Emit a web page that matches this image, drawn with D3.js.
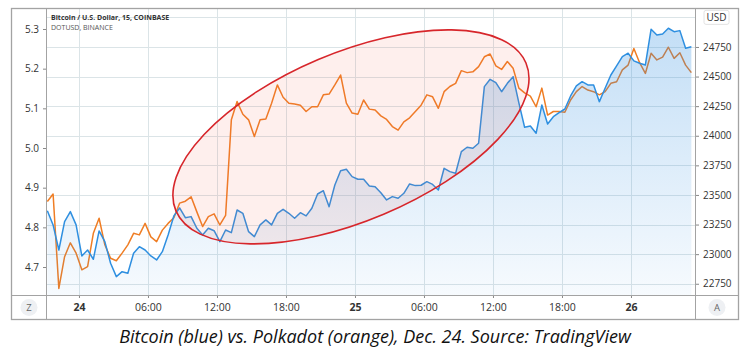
<!DOCTYPE html>
<html>
<head>
<meta charset="utf-8">
<script src="https://cdn.jsdelivr.net/npm/d3@7"></script>
<style>
  body { margin: 0; background: #fff; }
  svg { display: block; font-family: "Open Sans", sans-serif; }
</style>
</head>
<body>
<div id="chart"></div>
<script>
// 30-minute samples, first one at Dec 23 21:15 UTC
const startTime = '2020-12-23T21:15:00Z';
const stepMinutes = 30;

// DOTUSD, BINANCE (left scale)
const dot = [
  4.865, 4.884, 4.646, 4.726, 4.761, 4.735, 4.693, 4.701, 4.785, 4.823,
  4.756, 4.722, 4.716, 4.735, 4.756, 4.785, 4.781, 4.810, 4.776, 4.764,
  4.793, 4.810, 4.824, 4.861, 4.866, 4.877, 4.839, 4.802, 4.827, 4.834,
  4.806, 4.830, 5.071, 5.117, 5.085, 5.071, 5.029, 5.071, 5.073, 5.113,
  5.159, 5.128, 5.113, 5.111, 5.108, 5.092, 5.104, 5.104, 5.134, 5.136,
  5.159, 5.184, 5.113, 5.088, 5.085, 5.121, 5.098, 5.096, 5.081, 5.072,
  5.054, 5.045, 5.066, 5.076, 5.092, 5.108, 5.134, 5.129, 5.100, 5.142,
  5.155, 5.163, 5.195, 5.190, 5.192, 5.205, 5.230, 5.237, 5.207, 5.198,
  5.218, 5.201, 5.151, 5.139, 5.131, 5.104, 5.151, 5.083, 5.092, 5.092,
  5.090, 5.121, 5.142, 5.155, 5.146, 5.142, 5.134, 5.142, 5.163, 5.167,
  5.197, 5.209, 5.251, 5.215, 5.188, 5.239, 5.222, 5.229, 5.254, 5.226,
  5.240, 5.209, 5.190
];

// Bitcoin / U.S. Dollar, COINBASE (right scale)
const btc = [
  23367, 23247, 23035, 23274, 23359, 23247, 22985, 23035, 22957, 23196,
  23106, 22923, 22810, 22852, 22839, 23008, 23063, 23035, 22985, 22951,
  23021, 23162, 23323, 23390, 23308, 23317, 23219, 23162, 23219, 23198,
  23106, 23204, 23182, 23373, 23345, 23190, 23148, 23247, 23289, 23247,
  23345, 23379, 23345, 23303, 23350, 23323, 23388, 23508, 23536, 23401,
  23584, 23705, 23717, 23655, 23633, 23633, 23576, 23570, 23519, 23458,
  23486, 23472, 23514, 23593, 23579, 23582, 23612, 23589, 23542, 23725,
  23697, 23683, 23866, 23903, 23894, 23937, 24415, 24477, 24448, 24372,
  24443, 24499, 24277, 24072, 24083, 24021, 24260, 24100, 24161, 24195,
  24226, 24336, 24421, 24457, 24429, 24429, 24288, 24401, 24513, 24590,
  24668, 24697, 24632, 24612, 24598, 24900, 24851, 24860, 24908, 24879,
  24888, 24739, 24752
];

const dotTicks = [4.7, 4.8, 4.9, 5.0, 5.1, 5.2, 5.3];
// 25000 sits under the USD badge, so it only gets a grid line
const btcTicks = [22750, 23000, 23250, 23500, 23750, 24000, 24250, 24500, 24750];
const btcGrid = [22750, 23000, 23250, 23500, 23750, 24000, 24250, 24500, 24750, 25000];

const title1 = 'Bitcoin / U.S. Dollar, 15, COINBASE';
const title2 = 'DOTUSD, BINANCE';
const caption = 'Bitcoin (blue) vs. Polkadot (orange), Dec. 24. Source: TradingView';

// the red ellipse drawn over the chart (centre in data units)
const ring = {time: '2020-12-24T23:39:00Z', dot: 5.028, rx: 190, ry: 84, angle: -22.9};

const width = 750;
const height = 353;
const frame = {left: 11, top: 8, right: 738, bottom: 319};
const plot = {left: 46, top: 8, right: 695, bottom: 295};

const t0 = new Date(startTime);
const times = dot.map((d, i) => new Date(+t0 + i * stepMinutes * 60000));

const svg = d3.select('#chart')
    .append('svg')
        .attr('width', width)
        .attr('height', height);

// scales
const x = d3.scaleUtc()
    .domain([new Date('2020-12-23T21:08:00Z'), new Date('2020-12-26T05:34:00Z')])
    .range([plot.left, plot.right]);
const yDot = d3.scaleLinear()
    .domain([4.6295, 5.3529])
    .range([plot.bottom, plot.top]);
const yBtc = d3.scaleLinear()
    .domain([22655, 25079])
    .range([plot.bottom, plot.top]);

const defs = svg.append('defs');
defs.append('clipPath').attr('id', 'plot-clip')
    .append('rect')
        .attr('x', plot.left).attr('y', plot.top)
        .attr('width', plot.right - plot.left)
        .attr('height', plot.bottom - plot.top);
const grad = defs.append('linearGradient')
    .attr('id', 'btc-fill')
    .attr('gradientUnits', 'userSpaceOnUse')
    .attr('x1', 0).attr('x2', 0)
    .attr('y1', plot.top).attr('y2', plot.bottom);
grad.append('stop').attr('offset', 0).attr('stop-color', '#2a8be0').attr('stop-opacity', 0.3);
grad.append('stop').attr('offset', 1).attr('stop-color', '#2a8be0').attr('stop-opacity', 0.04);

const xTicks = x.ticks(d3.utcHour.every(6));

// grid
const grid = svg.append('g').attr('stroke', '#dbe4e7').attr('stroke-width', 1);
grid.selectAll('.h')
    .data(btcGrid.filter(v => yBtc(v) > plot.top))
    .join('line')
        .attr('x1', plot.left).attr('x2', plot.right)
        .attr('y1', d => Math.round(yBtc(d)) + 0.5)
        .attr('y2', d => Math.round(yBtc(d)) + 0.5);
grid.selectAll('.v')
    .data(xTicks)
    .join('line')
        .attr('y1', plot.top).attr('y2', plot.bottom)
        .attr('x1', d => Math.round(x(d)) + 0.5)
        .attr('x2', d => Math.round(x(d)) + 0.5);

// series
const lineDot = d3.line()
    .x((d, i) => x(times[i]))
    .y(d => yDot(d));
const lineBtc = d3.line()
    .x((d, i) => x(times[i]))
    .y(d => yBtc(d));
const areaBtc = d3.area()
    .x((d, i) => x(times[i]))
    .y0(plot.bottom)
    .y1(d => yBtc(d));

const series = svg.append('g').attr('clip-path', 'url(#plot-clip)');
series.append('path')
    .datum(dot)
        .attr('fill', 'none')
        .attr('stroke', '#ef7d24')
        .attr('stroke-width', 1.5)
        .attr('stroke-linejoin', 'round')
        .attr('d', lineDot);
series.append('path')
    .datum(btc)
        .attr('fill', 'url(#btc-fill)')
        .attr('d', areaBtc);
series.append('path')
    .datum(btc)
        .attr('fill', 'none')
        .attr('stroke', '#2e8fe0')
        .attr('stroke-width', 1.5)
        .attr('stroke-linejoin', 'round')
        .attr('d', lineBtc);

// annotation ellipse
svg.append('ellipse')
    .attr('transform', `translate(${x(new Date(ring.time))},${yDot(ring.dot)}) rotate(${ring.angle})`)
    .attr('rx', ring.rx)
    .attr('ry', ring.ry)
    .attr('fill', 'rgba(244, 96, 76, 0.1)')
    .attr('stroke', '#d7262b')
    .attr('stroke-width', 1.6);

// axes
const styleAxis = g => g
    .call(g => g.select('.domain').remove())
    .call(g => g.selectAll('.tick line').attr('stroke', '#888'))
    .call(g => g.selectAll('.tick text')
        .attr('fill', '#333')
        .style('font-size', '10px')
        .style('font-family', '"Open Sans", sans-serif'));

svg.append('g')
    .attr('transform', `translate(${plot.left},0)`)
    .call(d3.axisLeft(yDot).tickValues(dotTicks).tickSize(3).tickPadding(4).tickFormat(d3.format('.1f')))
    .call(styleAxis);

svg.append('g')
    .attr('transform', `translate(${plot.right},0)`)
    .call(d3.axisRight(yBtc).tickValues(btcTicks).tickSize(4).tickPadding(4).tickFormat(d3.format('d')))
    .call(styleAxis);

svg.append('g')
    .attr('transform', `translate(0,${plot.bottom})`)
    .call(d3.axisBottom(x).tickValues(xTicks).tickSize(3).tickPadding(6)
        .tickFormat(d => d.getUTCHours() === 0 ? d3.utcFormat('%-d')(d) : d3.utcFormat('%H:%M')(d)))
    .call(styleAxis)
    .call(g => g.selectAll('.tick text')
        .style('font-size', '10.5px')
        .style('font-weight', d => d.getUTCHours() === 0 ? 700 : 400));

// frame and separators
const frameG = svg.append('g').attr('fill', 'none').attr('stroke', '#a3a3a3');
frameG.append('rect')
    .attr('x', frame.left + 0.5).attr('y', frame.top + 0.5)
    .attr('width', frame.right - frame.left)
    .attr('height', frame.bottom - frame.top)
    .attr('stroke-width', 1.3);
frameG.append('line')
    .attr('x1', frame.left).attr('x2', frame.right)
    .attr('y1', plot.bottom + 0.5).attr('y2', plot.bottom + 0.5);
frameG.append('line')
    .attr('x1', plot.left + 0.5).attr('x2', plot.left + 0.5)
    .attr('y1', frame.top).attr('y2', frame.bottom);
frameG.append('line')
    .attr('x1', plot.right + 0.5).attr('x2', plot.right + 0.5)
    .attr('y1', frame.top).attr('y2', frame.bottom);

// USD badge at the top of the price scale
const usd = svg.append('g').attr('transform', `translate(${plot.right + 9},${yBtc(25000) - 7})`);
usd.append('rect')
    .attr('width', 25).attr('height', 14).attr('rx', 2)
    .attr('fill', '#fff').attr('stroke', '#e2e2e2');
usd.append('text')
    .attr('x', 12.5).attr('y', 10.5)
    .attr('text-anchor', 'middle')
    .attr('fill', '#333')
    .style('font-size', '10px')
    .text('USD');

// Z / A buttons
const buttons = [
    {label: 'Z', cx: (frame.left + plot.left) / 2 + 0.5},
    {label: 'A', cx: (plot.right + frame.right) / 2 + 0.5}
];
const btn = svg.selectAll('.btn')
    .data(buttons)
    .join('g')
        .attr('transform', d => `translate(${d.cx},${(plot.bottom + frame.bottom) / 2 + 0.5})`);
btn.append('circle').attr('r', 8.5).attr('fill', '#eef0f3');
btn.append('text')
    .attr('text-anchor', 'middle')
    .attr('dy', '0.35em')
    .attr('fill', '#666')
    .style('font-size', '9.5px')
    .text(d => d.label);

// legend titles
svg.append('text')
    .attr('x', plot.left + 5).attr('y', 20)
    .attr('fill', '#333')
    .style('font-size', '7px')
    .style('font-weight', 700)
    .text(title1);
svg.append('text')
    .attr('x', plot.left + 5).attr('y', 30)
    .attr('fill', '#555')
    .style('font-size', '7px')
    .text(title2);

// caption
svg.append('text')
    .attr('x', width / 2).attr('y', 343)
    .attr('text-anchor', 'middle')
    .attr('fill', '#111')
    .style('font-size', '18px')
    .style('font-style', 'italic')
    .text(caption);
</script>
</body>
</html>
